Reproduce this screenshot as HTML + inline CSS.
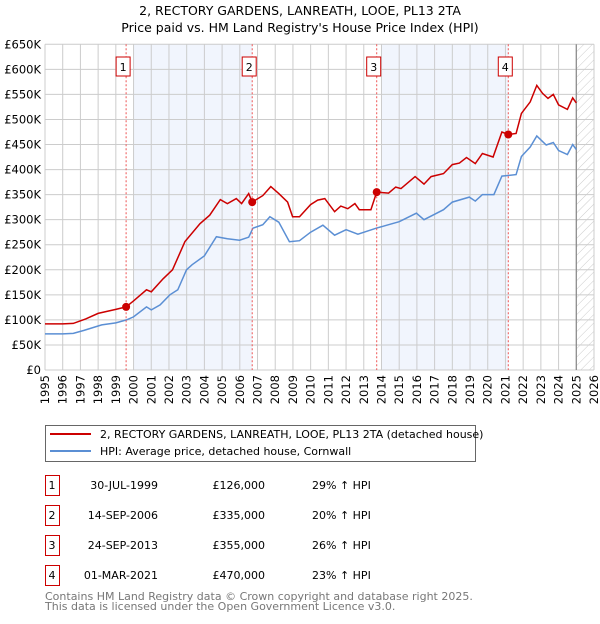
<!DOCTYPE html>
<html><head><meta charset="utf-8"><style>
body{margin:0;background:#fff;width:600px;height:620px;overflow:hidden;font-family:"DejaVu Sans","Liberation Sans",sans-serif;}
svg text{font-family:"DejaVu Sans","Liberation Sans",sans-serif;}
</style></head><body>
<svg id="chart" width="600" height="620" xmlns="http://www.w3.org/2000/svg">
<text x="300" y="15" text-anchor="middle" font-size="12.5" fill="#000">2, RECTORY GARDENS, LANREATH, LOOE, PL13 2TA</text>
<text x="300" y="32" text-anchor="middle" font-size="12.5" fill="#000">Price paid vs. HM Land Registry's House Price Index (HPI)</text>
<defs><pattern id="hatch" width="6" height="6" patternUnits="userSpaceOnUse" patternTransform="rotate(45)"><line x1="0" y1="0" x2="0" y2="6" stroke="#ccc" stroke-width="1"/></pattern></defs>
<g id="bands"></g><g id="grid"></g><g id="series"></g><g id="marks"></g>
<g>
<rect x="45.5" y="425.5" width="430" height="36" fill="#fff" stroke="#666"/>
<line x1="50" y1="434" x2="91" y2="434" stroke="#cc0000" stroke-width="2"/>
<text x="100" y="438" font-size="11">2, RECTORY GARDENS, LANREATH, LOOE, PL13 2TA (detached house)</text>
<line x1="50" y1="451" x2="91" y2="451" stroke="#5b8fd4" stroke-width="2"/>
<text x="100" y="455" font-size="11">HPI: Average price, detached house, Cornwall</text>
</g>
<g id="table" font-size="11"></g>
<text x="45" y="600" font-size="11" fill="#777">Contains HM Land Registry data © Crown copyright and database right 2025.</text>
<text x="45" y="610" font-size="11" fill="#777">This data is licensed under the Open Government Licence v3.0.</text>
</svg>
<script>
const hpiYears=[1995,1996,1996.6,1997.2,1998.2,1999,1999.6,2000,2000.73,2001,2001.5,2002.05,2002.5,2002.99,2003.3,2004,2004.68,2005.3,2005.99,2006.5,2006.74,2007.3,2007.7,2008.2,2008.8,2009.37,2010,2010.69,2011.35,2012,2012.67,2013.7,2014.4,2015,2015.97,2016.4,2017.5,2018,2018.96,2019.3,2019.7,2020.35,2020.8,2021.6,2021.9,2022.4,2022.77,2023.3,2023.7,2024,2024.5,2024.8,2025];
const hpiValues=[72,72,73,79,90,94,100,106,126,120,130,150,160,200,210,228,266,262,259,265,283,290,306,295,256,258,275,289,269,280,271,283,290,296,313,300,320,335,345,337,350,350,387,390,426,445,467,449,454,438,430,450,440];
const propYears=[1995,1996,1996.6,1997.3,1998,1999,1999.58,2000,2000.73,2001,2001.67,2002.2,2002.9,2003.75,2004.3,2004.9,2005.3,2005.8,2006.1,2006.5,2006.7,2007.3,2007.75,2008.2,2008.7,2008.98,2009.37,2010,2010.4,2010.8,2011.35,2011.7,2012.1,2012.5,2012.75,2013.4,2013.73,2014.4,2014.8,2015.1,2015.9,2016.4,2016.8,2017.5,2018,2018.4,2018.8,2019.3,2019.7,2020.3,2020.8,2021.16,2021.6,2021.9,2022.4,2022.77,2023.1,2023.4,2023.7,2024,2024.5,2024.8,2025];
const propValues=[92,92,93,102,113,121,126,138,160,156,182,200,256,292,309,340,332,342,332,352,335,348,366,352,335,306,306,330,339,342,316,327,322,332,320,320,355,353,365,362,386,371,386,392,410,413,424,412,432,425,475,470,472,512,535,568,552,542,550,529,520,543,533];
const saleLabels=["1","2","3","4"];
const saleYears=[1999.58,2006.70,2013.73,2021.16];
const salePrices=[126,335,355,470];
const saleDates=["30-JUL-1999","14-SEP-2006","24-SEP-2013","01-MAR-2021"];
const salePriceText=["£126,000","£335,000","£355,000","£470,000"];
const saleHpiText=["29% ↑ HPI","20% ↑ HPI","26% ↑ HPI","23% ↑ HPI"];
const yTicks=[0,50,100,150,200,250,300,350,400,450,500,550,600,650];
const yTickLabels=["£0","£50K","£100K","£150K","£200K","£250K","£300K","£350K","£400K","£450K","£500K","£550K","£600K","£650K"];
const xTicks=[1995,1996,1997,1998,1999,2000,2001,2002,2003,2004,2005,2006,2007,2008,2009,2010,2011,2012,2013,2014,2015,2016,2017,2018,2019,2020,2021,2022,2023,2024,2025,2026];

const NS="http://www.w3.org/2000/svg";
const X0=45,X1=594,Y0=370,Y1=44.3;
const xs=y=>X0+(y-1995)*(X1-X0)/31;
const ys=v=>Y0-(v/650)*(Y0-Y1);
function mk(tag,attrs,parent){const e=document.createElementNS(NS,tag);for(const k in attrs)e.setAttribute(k,attrs[k]);parent.appendChild(e);return e;}
const bands=document.getElementById('bands'),grid=document.getElementById('grid'),series=document.getElementById('series'),marks=document.getElementById('marks'),table=document.getElementById('table');
for(let i=0;i<saleYears.length;i+=2){
 const s=Math.ceil(saleYears[i]-0.01);
 const r=mk('rect',{x:xs(s),y:Y1,width:xs(saleYears[i+1])-xs(s),height:Y0-Y1,fill:'#eef3fc',opacity:0.8},bands);
 
 
}
const h=mk('rect',{x:xs(2025),y:Y1,width:xs(2026)-xs(2025),height:Y0-Y1,fill:'url(#hatch)'},bands);


yTicks.forEach((t,i)=>{
 mk('line',{x1:X0,x2:X1,y1:ys(t),y2:ys(t),stroke:'#ccc','stroke-width':1},grid);
 const tx=mk('text',{x:X0-4,y:ys(t)+4,'text-anchor':'end','font-size':11.5},grid);
 tx.textContent=yTickLabels[i];
 
 
});
xTicks.forEach(t=>{
 mk('line',{x1:xs(t),x2:xs(t),y1:Y1,y2:Y0,stroke:'#ccc','stroke-width':1},grid);
 const tx=mk('text',{x:0,y:0,'text-anchor':'end','font-size':11.5,transform:`translate(${xs(t)+4},${Y0+5}) rotate(-90)`},grid);
 tx.textContent=t;
 
 
});
mk('line',{x1:xs(2025),x2:xs(2025),y1:Y1,y2:Y0,stroke:'#888','stroke-width':1.2},grid);
function pts(xa,va){return xa.map((x,i)=>xs(x).toFixed(1)+','+ys(va[i]).toFixed(1)).join(' ');}
const hl=mk('polyline',{points:pts(hpiYears,hpiValues),fill:'none',stroke:'#5b8fd4','stroke-width':1.5},series);


const pl=mk('polyline',{points:pts(propYears,propValues),fill:'none',stroke:'#cc0000','stroke-width':1.5},series);


saleYears.forEach((y,i)=>{
 mk('line',{x1:xs(y),x2:xs(y),y1:Y1,y2:Y0,stroke:'#ee5555','stroke-width':1,'stroke-dasharray':'2,2'},marks);
 const c=mk('circle',{cx:xs(y),cy:ys(salePrices[i]),r:4,fill:'#cc0000'},marks);
 
 
 const b=mk('rect',{x:xs(y)-10,y:57,width:14,height:19,fill:'#fff',stroke:'#cc0000'},marks);
 
 
 const t=mk('text',{x:xs(y)-3,y:71,'text-anchor':'middle','font-size':11},marks);
 t.textContent=saleLabels[i];
 const ry=475+i*30;
 const tb=mk('rect',{x:45.5,y:ry+0.5,width:14,height:20,fill:'#fff',stroke:'#cc0000'},table);
 
 
 const cells=[[52,saleLabels[i],'middle'],[158,saleDates[i],'end'],[265,salePriceText[i],'end'],[312,saleHpiText[i],'start']];
 cells.forEach(([cx,txt,anc],j)=>{const e=mk('text',{x:cx,y:ry+14,'text-anchor':anc,'font-size':11},table);e.textContent=txt;
  
  });
});
</script>
</body></html>
